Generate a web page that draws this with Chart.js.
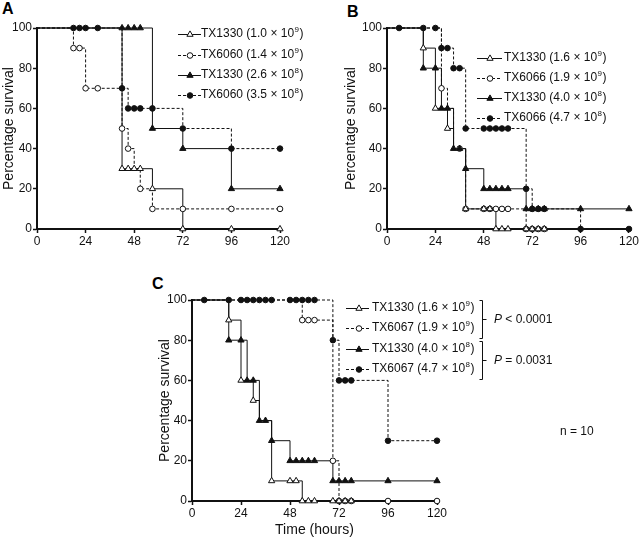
<!DOCTYPE html>
<html>
<head>
<meta charset="utf-8">
<script src="https://cdn.jsdelivr.net/npm/chart.js@4.4.0/dist/chart.umd.min.js"></script>
<style>
  body { margin: 0; background: #fff; width: 640px; height: 539px; overflow: hidden; position: relative; font-family: "Liberation Sans", Arial, sans-serif; }
  canvas { position: absolute; }
  .panel { position: absolute; font-weight: bold; font-size: 16px; color: #000; }
</style>
</head>
<body>
<div class="panel" style="left:2px;top:0px">A</div>
<div class="panel" style="left:347px;top:3px">B</div>
<div class="panel" style="left:152px;top:275px">C</div>
<canvas id="chartA" width="320" height="255" style="left:0;top:0"></canvas>
<canvas id="chartB" width="298" height="255" style="left:342px;top:0"></canvas>
<canvas id="chartC" width="484" height="267" style="left:156px;top:272px"></canvas>
<script>
const xTicks = [0, 24, 48, 72, 96, 120];
const yTicks = [0, 20, 40, 60, 80, 100];

// Panel A - step times (h), survival (%), symbol times
const a1Time = [0, 42, 57, 72, 120];
const a1Surv = [100, 30, 20, 0, 0];
const a1Marks = [42, 45, 48, 51, 57, 72, 96, 120];
const a2Time = [0, 18, 24, 42, 45, 48, 51, 57, 120];
const a2Surv = [100, 90, 70, 50, 40, 30, 20, 10, 10];
const a2Marks = [18, 21, 24, 30, 42, 45, 51, 57, 72, 96, 120];
const a3Time = [0, 57, 72, 96, 120];
const a3Surv = [100, 50, 40, 20, 20];
const a3Marks = [42, 45, 48, 51, 57, 72, 96, 120];
const a4Time = [0, 42, 45, 72, 96, 120];
const a4Surv = [100, 70, 60, 50, 40, 40];
const a4Marks = [18, 21, 24, 30, 42, 45, 48, 51, 57, 72, 96, 120];
const aLabels = ['TX1330 (1.0 × 10^9)', 'TX6060 (1.4 × 10^9)', 'TX1330 (2.6 × 10^8)', 'TX6060 (3.5 × 10^8)'];

// Panel B (TX1330 groups also shown in C)
const ctrlHiTime = [0, 18, 24, 30, 33, 39, 54, 78];
const ctrlHiSurv = [100, 90, 60, 50, 40, 10, 0, 0];
const ctrlHiMarks = [18, 24, 30, 39, 48, 51, 54, 57, 60, 69, 72, 75, 78];
const ctrlLoTime = [0, 18, 27, 33, 39, 48, 69, 120];
const ctrlLoSurv = [100, 80, 60, 40, 30, 20, 10, 10];
const ctrlLoMarks = [18, 24, 27, 30, 33, 36, 39, 48, 51, 54, 57, 60, 69, 72, 75, 78, 96, 120];
const b2Time = [0, 27, 30, 33, 39, 69, 78];
const b2Surv = [100, 70, 60, 40, 10, 0, 0];
const b2Marks = [27, 36, 39, 48, 51, 54, 57, 60, 69, 72, 75, 78];
const b4Time = [0, 27, 33, 39, 69, 72, 96, 120];
const b4Surv = [100, 90, 80, 50, 20, 10, 0, 0];
const b4Marks = [6, 18, 24, 27, 30, 33, 36, 39, 48, 51, 54, 57, 60, 69, 72, 75, 78, 96, 120];
const bLabels = ['TX1330 (1.6 × 10^9)', 'TX6066 (1.9 × 10^9)', 'TX1330 (4.0 × 10^8)', 'TX6066 (4.7 × 10^8)'];

// Panel C
const c2Time = [0, 54, 69, 72, 120];
const c2Surv = [100, 90, 20, 0, 0];
const c2Marks = [54, 57, 60, 69, 72, 75, 78, 96, 120];
const c4Time = [0, 69, 72, 96, 120];
const c4Surv = [100, 80, 60, 30, 30];
const c4Marks = [6, 18, 24, 27, 30, 33, 36, 39, 48, 51, 54, 57, 60, 69, 72, 75, 78, 96, 120];
const cLabels = ['TX1330 (1.6 × 10^9)', 'TX6067 (1.9 × 10^9)', 'TX1330 (4.0 × 10^8)', 'TX6067 (4.7 × 10^8)'];
const pValues = ['< 0.0001', '= 0.0031'];
const nText = 'n = 10';

const ink = '#111';
const font = '"Liberation Sans", Arial, sans-serif';
const styles = [
  { shape: 'triangle', filled: false, dash: [] },
  { shape: 'circle', filled: false, dash: [3, 2] },
  { shape: 'triangle', filled: true, dash: [] },
  { shape: 'circle', filled: true, dash: [3, 2] }
];

function survAt(times, surv, t) {
  let v = surv[0];
  for (let i = 0; i < times.length; i++) if (times[i] <= t) v = surv[i];
  return v;
}

function makeSeries(times, surv, marks, st) {
  return [
    {
      type: 'line', order: 2, stepped: true, clip: false,
      data: times.map((t, i) => ({ x: t, y: surv[i] })),
      borderColor: ink, borderWidth: 1, borderDash: st.dash, pointRadius: 0, fill: false
    },
    {
      type: 'scatter', order: st.filled ? 0 : 1, clip: false, showLine: false,
      data: marks.map(t => ({ x: t, y: survAt(times, surv, t) })),
      pointStyle: st.shape, pointRadius: st.shape === 'triangle' ? 3.6 : 2.8,
      backgroundColor: st.filled ? ink : '#fff', borderColor: ink, borderWidth: 1
    }
  ];
}

function drawMarker(ctx, st, x, y) {
  ctx.save();
  ctx.setLineDash([]);
  ctx.lineWidth = 1;
  ctx.strokeStyle = ink;
  ctx.fillStyle = st.filled ? ink : '#fff';
  ctx.beginPath();
  if (st.shape === 'triangle') {
    const r = 3.6;
    ctx.moveTo(x, y - r);
    ctx.lineTo(x + r * 0.866, y + r / 2);
    ctx.lineTo(x - r * 0.866, y + r / 2);
    ctx.closePath();
  } else {
    ctx.arc(x, y, 2.8, 0, Math.PI * 2);
  }
  ctx.fill();
  ctx.stroke();
  ctx.restore();
}

function drawLabel(ctx, text, x, y) {
  const [base, rest] = text.split('^');
  ctx.fillStyle = ink;
  ctx.textAlign = 'left';
  ctx.textBaseline = 'middle';
  ctx.font = '12px ' + font;
  ctx.fillText(base, x, y);
  let w = ctx.measureText(base).width + 0.5;
  ctx.font = '8px ' + font;
  ctx.fillText(rest[0], x + w, y - 4);
  w += ctx.measureText(rest[0]).width + 0.5;
  ctx.font = '12px ' + font;
  ctx.fillText(rest.slice(1), x + w, y);
  ctx.font = '12px ' + font;
  return x + w + ctx.measureText(rest.slice(1)).width;
}

// legend: page coords converted by canvas offset
function legendPlugin(labels, ox, oy, lx1, lx2, mx, tx, rows, extra) {
  return {
    id: 'kmLegend',
    afterDraw(chart) {
      const ctx = chart.ctx;
      ctx.save();
      labels.forEach((lab, i) => {
        const y = rows[i] - oy;
        ctx.strokeStyle = ink;
        ctx.lineWidth = 1;
        ctx.setLineDash(styles[i].dash);
        ctx.beginPath();
        ctx.moveTo(lx1 - ox, y + 0.5);
        ctx.lineTo(lx2 - ox, y + 0.5);
        ctx.stroke();
        drawMarker(ctx, styles[i], mx - ox, y + 0.5);
        drawLabel(ctx, lab, tx - ox, y);
      });
      if (extra) extra(ctx, ox, oy);
      ctx.restore();
    }
  };
}

function makePanel(id, series, plugin, pad, yWidth, xHeight, xTitle) {
  const datasets = [];
  series.forEach((s, i) => datasets.push(...makeSeries(s[0], s[1], s[2], styles[i])));
  const tickFont = { family: font, size: 12 };
  return new Chart(document.getElementById(id), {
    type: 'line',
    data: { datasets },
    options: {
      responsive: false,
      animation: false,
      layout: { padding: pad },
      plugins: { legend: { display: false }, tooltip: { enabled: false } },
      scales: {
        x: {
          type: 'linear', min: 0, max: 120,
          afterBuildTicks: s => { s.ticks = xTicks.map(v => ({ value: v })); },
          afterFit: s => { s.height = xHeight; },
          ticks: { color: ink, font: tickFont, padding: 1, maxRotation: 0 },
          grid: { drawOnChartArea: false, drawTicks: true, tickLength: 4, tickColor: ink, tickWidth: 1.5 },
          border: { color: ink, width: 2 },
          title: { display: !!xTitle, text: xTitle || '', color: ink, font: { family: font, size: 14 }, padding: { top: 0, bottom: 0 } }
        },
        y: {
          type: 'linear', min: 0, max: 100,
          afterBuildTicks: s => { s.ticks = yTicks.map(v => ({ value: v })); },
          afterFit: s => { s.width = yWidth; },
          ticks: { color: ink, font: tickFont, padding: 1 },
          grid: { drawOnChartArea: false, drawTicks: true, tickLength: 4, tickColor: ink, tickWidth: 1.5 },
          border: { color: ink, width: 2 },
          title: { display: true, text: 'Percentage survival', color: ink, font: { family: font, size: 14 }, padding: { top: 1, bottom: 0 } }
        }
      }
    },
    plugins: [plugin]
  });
}

makePanel('chartA',
  [[a1Time, a1Surv, a1Marks], [a2Time, a2Surv, a2Marks], [a3Time, a3Surv, a3Marks], [a4Time, a4Surv, a4Marks]],
  legendPlugin(aLabels, 0, 0, 178, 201, 190, 201, [34, 55, 75, 95]),
  { left: 0, right: 40, top: 28, bottom: 0 }, 37, 26);

makePanel('chartB',
  [[ctrlHiTime, ctrlHiSurv, ctrlHiMarks], [b2Time, b2Surv, b2Marks], [ctrlLoTime, ctrlLoSurv, ctrlLoMarks], [b4Time, b4Surv, b4Marks]],
  legendPlugin(bLabels, 342, 0, 477, 502, 490, 504, [58, 78, 98, 118]),
  { left: 0, right: 10, top: 28, bottom: 0 }, 45, 26);

function cExtras(ctx, ox, oy) {
  ctx.strokeStyle = ink;
  ctx.lineWidth = 1;
  ctx.setLineDash([]);
  [[300, 338], [341, 379]].forEach(([y1, y2], i) => {
    const bx = 482.5 - ox;
    ctx.beginPath();
    ctx.moveTo(bx - 3, y1 - oy + 0.5);
    ctx.lineTo(bx, y1 - oy + 0.5);
    ctx.lineTo(bx, y2 - oy + 0.5);
    ctx.lineTo(bx - 3, y2 - oy + 0.5);
    const ym = Math.round((y1 + y2) / 2) - oy + 0.5;
    ctx.moveTo(bx, ym);
    ctx.lineTo(bx + 4, ym);
    ctx.stroke();
    ctx.fillStyle = ink;
    ctx.textBaseline = 'middle';
    ctx.textAlign = 'left';
    ctx.font = 'italic 12px ' + font;
    const px = 494 - ox;
    ctx.fillText('P', px, ym);
    const w = ctx.measureText('P ').width;
    ctx.font = '12px ' + font;
    ctx.fillText(pValues[i], px + w, ym);
  });
  ctx.font = '12px ' + font;
  ctx.fillText(nText, 560 - ox, 432 - oy);
}

makePanel('chartC',
  [[ctrlHiTime, ctrlHiSurv, ctrlHiMarks], [c2Time, c2Surv, c2Marks], [ctrlLoTime, ctrlLoSurv, ctrlLoMarks], [c4Time, c4Surv, c4Marks]],
  legendPlugin(cLabels, 156, 272, 346, 369, 359, 372, [308, 328, 349, 369], cExtras),
  { left: 0, right: 203, top: 28, bottom: 0 }, 36, 38, 'Time (hours)');
</script>
</body>
</html>
